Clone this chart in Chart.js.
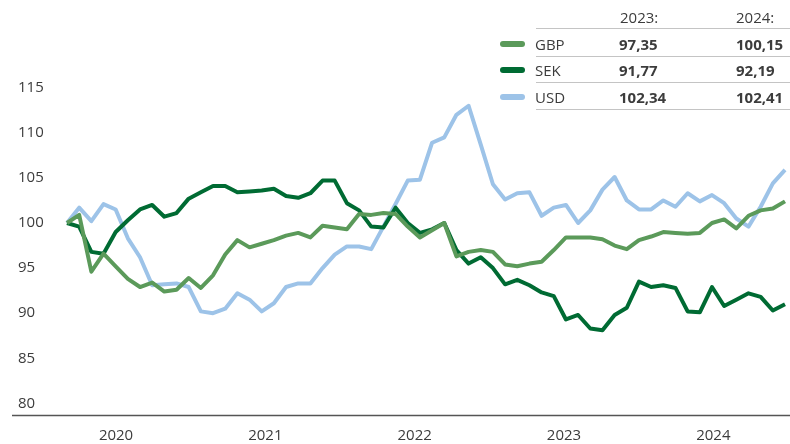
<!DOCTYPE html>
<html><head><meta charset="utf-8">
<script src="https://cdn.jsdelivr.net/npm/chart.js@4"></script>
<style>
html,body{margin:0;padding:0;background:#fff;}
#wrap{position:relative;width:790px;height:444px;overflow:hidden;font-family:"Open Sans",sans-serif;color:#3c3c3c;}
#c{position:absolute;left:0;top:0;}
.t{position:absolute;font-size:15px;line-height:18px;white-space:nowrap;}
.b{font-weight:700;}
.hl{position:absolute;left:536px;width:254px;height:0;border-top:1.5px solid #c4c4c4;}
.sw{position:absolute;left:500px;width:25px;height:6px;border-radius:3px;}
</style></head>
<body><div id="wrap"><canvas id="c" width="790" height="444"></canvas><div id="legend"></div></div>
<script>
// Monthly observations, March 2020 – February 2025 (index 100 at start)
const months = ["2020-03","2020-04","2020-05","2020-06","2020-07","2020-08","2020-09","2020-10","2020-11","2020-12",
"2021-01","2021-02","2021-03","2021-04","2021-05","2021-06","2021-07","2021-08","2021-09","2021-10","2021-11","2021-12",
"2022-01","2022-02","2022-03","2022-04","2022-05","2022-06","2022-07","2022-08","2022-09","2022-10","2022-11","2022-12",
"2023-01","2023-02","2023-03","2023-04","2023-05","2023-06","2023-07","2023-08","2023-09","2023-10","2023-11","2023-12",
"2024-01","2024-02","2024-03","2024-04","2024-05","2024-06","2024-07","2024-08","2024-09","2024-10","2024-11","2024-12",
"2025-01","2025-02"];
const gbp = [100.0,100.9,94.6,96.6,95.2,93.8,92.9,93.4,92.4,92.6,93.9,92.8,
94.2,96.5,98.1,97.3,97.7,98.1,98.6,98.9,98.4,99.7,99.5,99.3,
101.0,100.9,101.1,101.0,99.6,98.4,99.2,100.0,96.3,96.8,97.0,96.8,
95.4,95.2,95.5,95.7,97.0,98.4,98.4,98.4,98.2,97.5,97.1,98.1,
98.5,99.0,98.9,98.8,98.9,100.0,100.4,99.4,100.8,101.4,101.6,102.4];
const sek = [100.0,99.6,96.8,96.6,99.0,100.3,101.5,102.0,100.7,101.1,102.7,103.4,
104.1,104.1,103.4,103.5,103.6,103.8,103.0,102.8,103.3,104.7,104.7,102.2,
101.4,99.6,99.5,101.7,100.0,98.9,99.3,100.0,97.0,95.5,96.2,95.0,
93.2,93.7,93.1,92.3,91.9,89.3,89.8,88.3,88.1,89.8,90.6,93.5,
92.9,93.1,92.8,90.2,90.1,92.9,90.8,91.5,92.2,91.8,90.3,91.0];
const usd = [100.0,101.7,100.2,102.1,101.5,98.3,96.2,93.1,93.2,93.3,92.9,90.2,
90.0,90.5,92.2,91.5,90.2,91.1,92.9,93.3,93.3,95.0,96.5,97.4,
97.4,97.1,99.6,102.1,104.7,104.8,108.9,109.5,112.0,113.0,108.7,104.3,
102.6,103.3,103.4,100.8,101.7,102.0,100.0,101.4,103.7,105.1,102.5,101.5,
101.5,102.5,101.8,103.3,102.4,103.1,102.2,100.5,99.6,101.8,104.4,105.9];
const yearLabels = ["2020","2021","2022","2023","2024"];
const yTicks = [80,85,90,95,100,105,110,115];
const tableHeaders = ["2023:","2024:"];
const seriesNames = ["GBP","SEK","USD"];
const avg2023 = ["97,35","91,77","102,34"];
const avg2024 = ["100,15","92,19","102,41"];
const colors = ["#5b9a5a","#006b33","#9dc3e8"];

// Legend table
const lg = document.getElementById('legend');
let h = '';
h += `<div class="t" style="left:620px;top:8px">${tableHeaders[0]}</div>`;
h += `<div class="t" style="left:736px;top:8px">${tableHeaders[1]}</div>`;
h += `<div class="hl" style="top:28px"></div>`;
seriesNames.forEach((n,i)=>{
  const cy = 43.5 + i*26.5;
  h += `<div class="sw" style="top:${cy-3}px;background:${colors[i]}"></div>`;
  h += `<div class="t" style="left:535px;top:${cy-9}px">${n}</div>`;
  h += `<div class="t b" style="left:619px;top:${cy-9}px">${avg2023[i]}</div>`;
  h += `<div class="t b" style="left:736px;top:${cy-9}px">${avg2024[i]}</div>`;
  h += `<div class="hl" style="top:${cy+12}px"></div>`;
});
lg.innerHTML = h;

const toPts = arr => arr.map((v,i)=>({x:i,y:v}));
const axisLine = {
  id:'axisLine',
  afterDraw(chart){
    const {ctx, chartArea} = chart;
    ctx.save();
    ctx.strokeStyle = '#555';
    ctx.lineWidth = 1.6;
    ctx.beginPath();
    ctx.moveTo(12, chartArea.bottom + 0.5);
    ctx.lineTo(chart.width, chartArea.bottom + 0.5);
    ctx.stroke();
    ctx.restore();
  }
};
const mk = (label, data, color) => ({
  label, data: toPts(data), borderColor: color, backgroundColor: color,
  borderWidth: 4, pointRadius: 0, tension: 0, borderJoinStyle: 'round', clip: false
});
new Chart(document.getElementById('c'), {
  type: 'line',
  data: { datasets: [mk(seriesNames[0], gbp, colors[0]), mk(seriesNames[1], sek, colors[1]), mk(seriesNames[2], usd, colors[2])] },
  options: {
    responsive: false, animation: false, events: [],
    layout: { padding: { left: 18, right: 5, top: 0, bottom: 0 } },
    plugins: { legend: { display: false }, tooltip: { enabled: false } },
    scales: {
      x: {
        type: 'linear', min: 0, max: months.length - 1,
        grid: { display: false, drawTicks: false }, border: { display: false },
        afterFit(s){ s.height = 29; },
        afterBuildTicks(s){ s.ticks = yearLabels.map((y,k)=>({value: 4.03 + k*12.27, label: y})); },
        ticks: {
          autoSkip: false, maxRotation: 0, padding: 12,
          font: { family: 'Open Sans', size: 15 }, color: '#3c3c3c',
          callback(v, i){ return yearLabels[i]; }
        }
      },
      y: {
        min: 78.71, max: 123.73,
        grid: { display: false, drawTicks: false }, border: { display: false },
        afterFit(s){ s.width = 49; },
        afterBuildTicks(s){ s.ticks = yTicks.map(v=>({value:v})); },
        ticks: {
          crossAlign: 'far', padding: 0,
          font: { family: 'Open Sans', size: 15 }, color: '#3c3c3c',
          callback(v){ return String(v); }
        }
      }
    }
  },
  plugins: [axisLine]
});
</script>
</body></html>
